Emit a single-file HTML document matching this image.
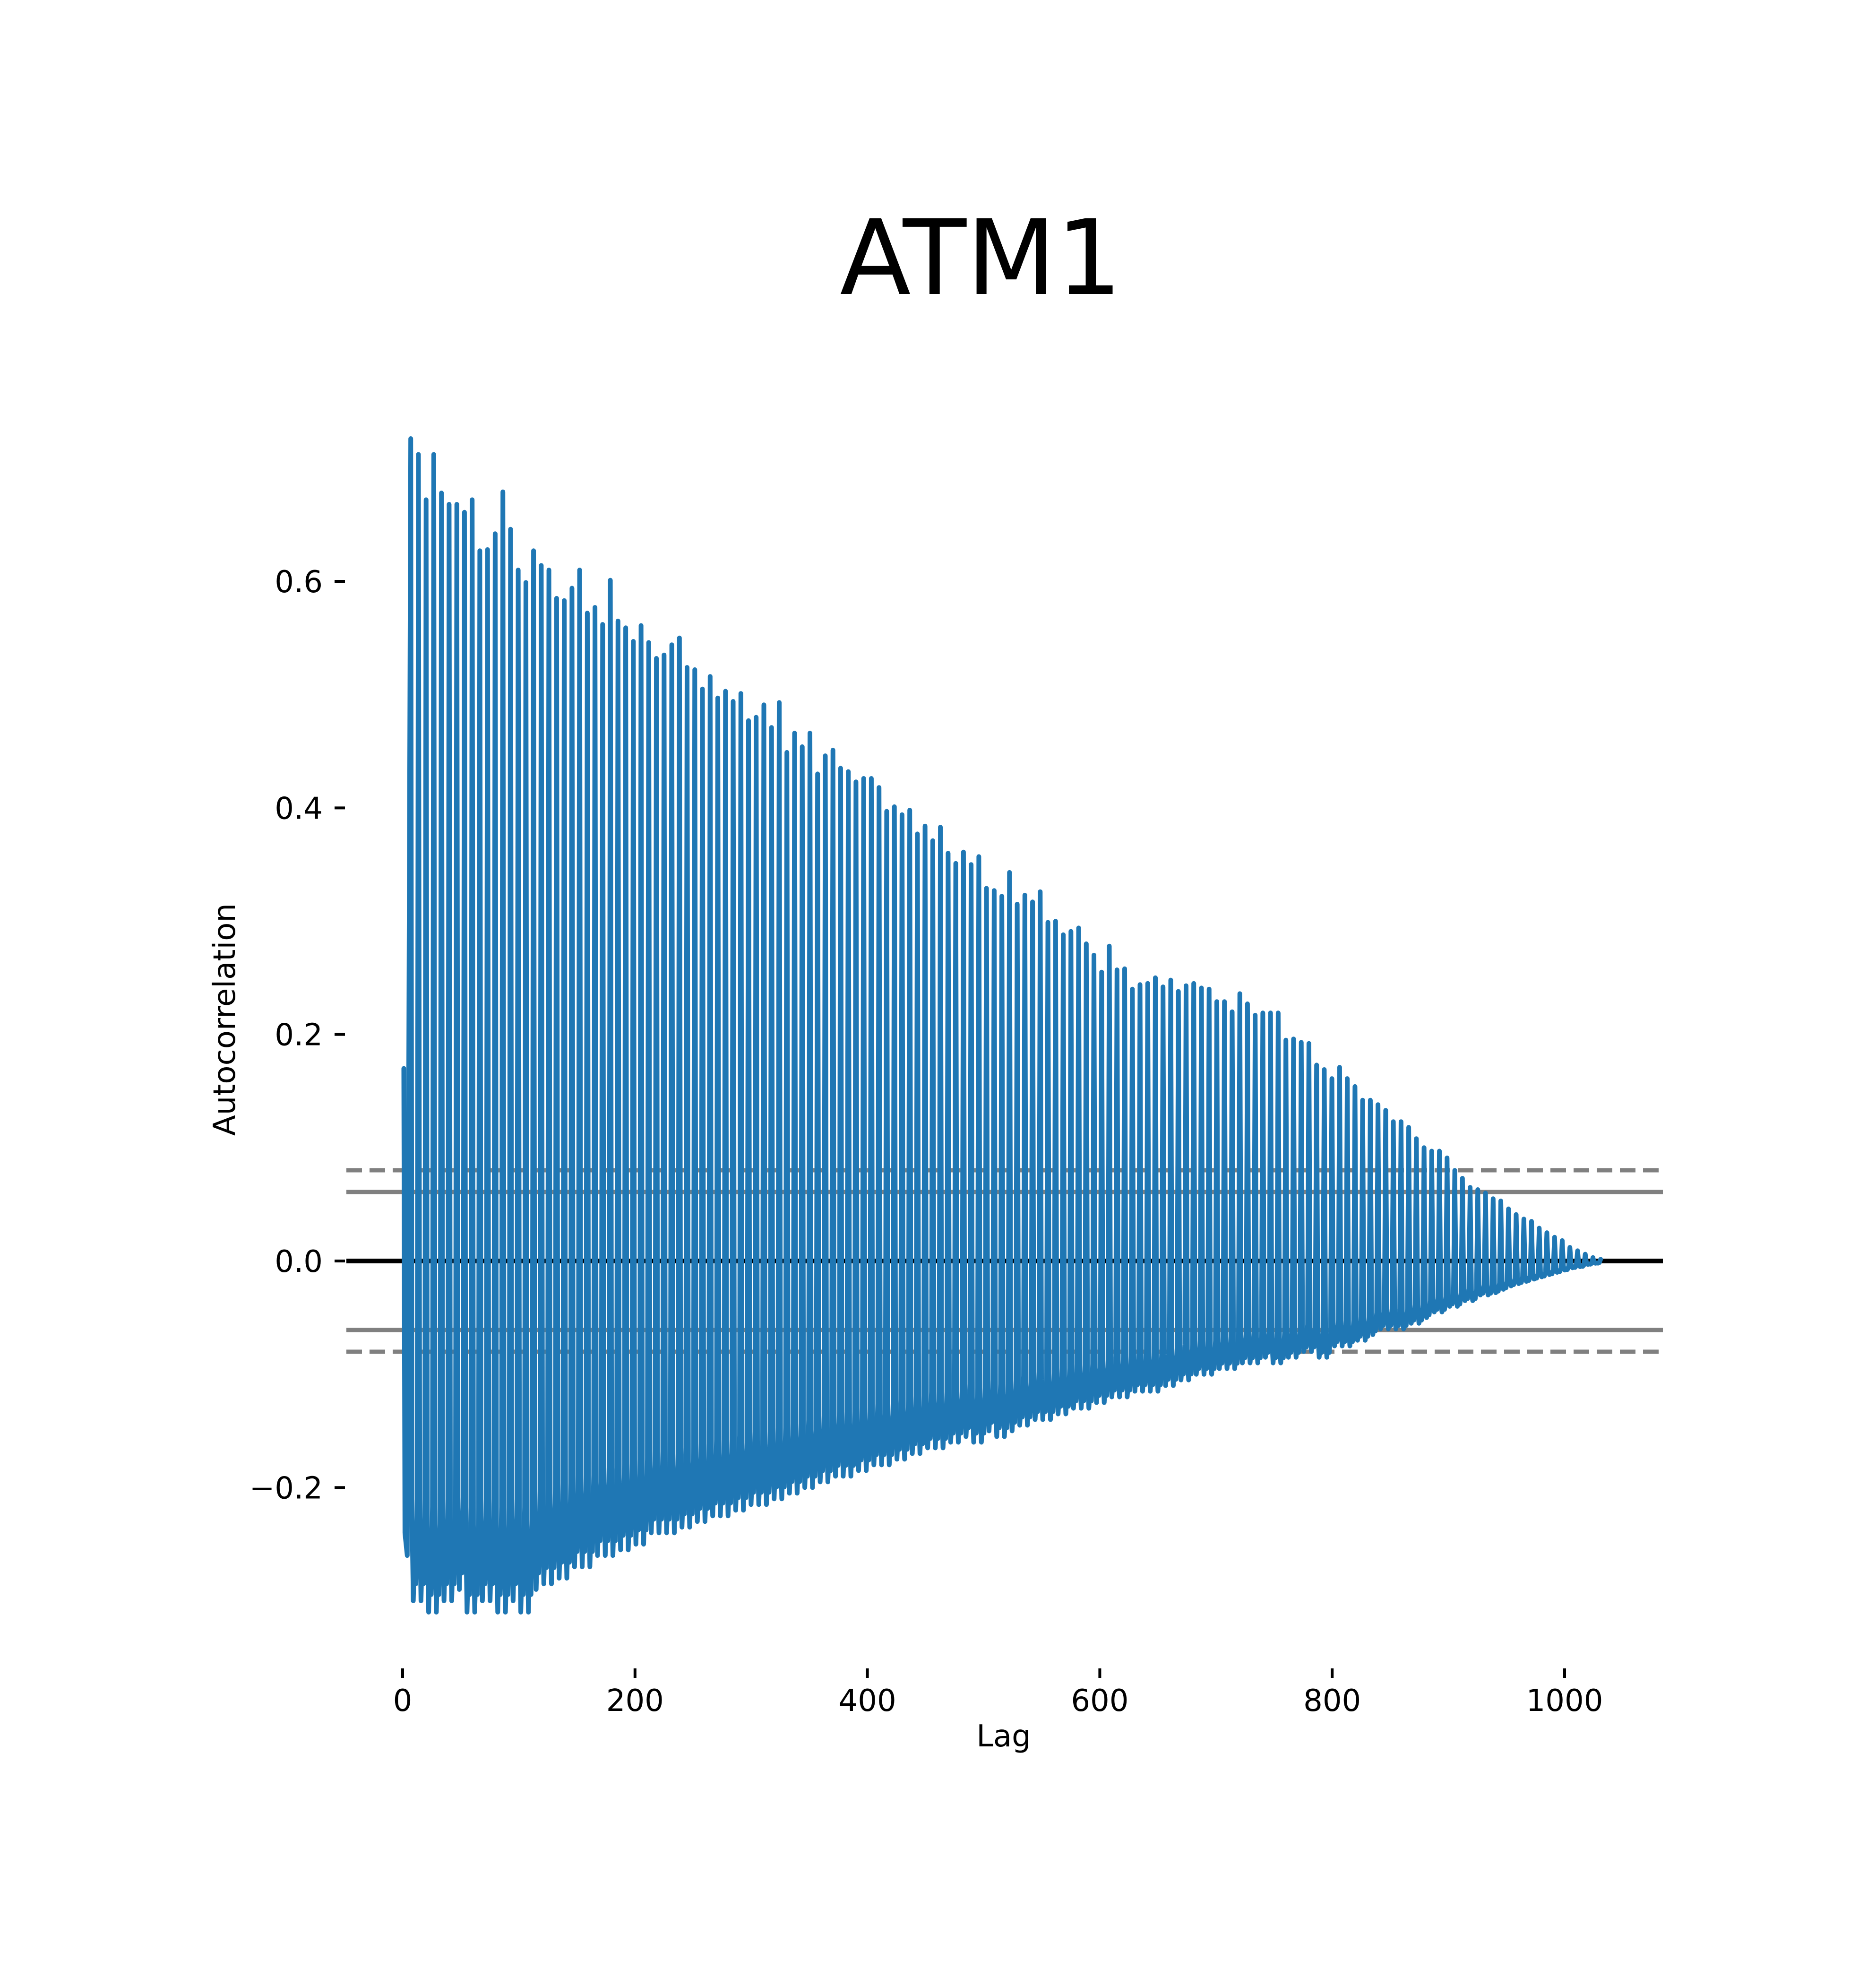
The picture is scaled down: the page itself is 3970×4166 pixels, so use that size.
<!DOCTYPE html>
<html><head><meta charset="utf-8"><title>ATM1 autocorrelation</title>
<style>html,body{margin:0;padding:0;background:#fff}svg{display:block}text{font-family:"DejaVu Sans","Liberation Sans",sans-serif;fill:#000}</style>
</head><body>
<svg id="chart" xmlns="http://www.w3.org/2000/svg" width="3970" height="4166" viewBox="0 0 3970 4166">
<rect width="3970" height="4166" fill="#fff"/>
<text x="2076" y="622" font-size="220" text-anchor="middle">ATM1</text>
<g id="bands"></g><g id="series"></g><g id="axes"></g>
<text x="2124" y="3695" font-size="64" text-anchor="middle">Lag</text>
<text x="0" y="0" font-size="64" text-anchor="middle" transform="translate(497,2157) rotate(-90)">Autocorrelation</text>
</svg>
<script>
const xTicks = [0, 200, 400, 600, 800, 1000];
const xTickLabels = ["0", "200", "400", "600", "800", "1000"];
const yTicks = [-0.2, 0.0, 0.2, 0.4, 0.6];
const yTickLabels = ["\u22120.2", "0.0", "0.2", "0.4", "0.6"];
const confLevels = [0.0609, 0.0801];
const leadLag = 1;
const leadValue = 0.17;
const firstPeakLag = 7;
const lastPeakLag = 1031;
const peakValues = [
.726,.712,.672,.712,.678,.668,.668,.661,.672,.627,.628,.642,.679,.646,.610,.599,.627,.614,.610,.585,.583,.594,.610,.572,.577,.562,.601,
.565,.559,.547,.561,.546,.532,.535,.544,.550,.524,.522,.505,.516,.497,.503,.494,.501,.477,.480,.491,.471,.493,.449,.466,.454,.466,.430,.446,
.451,.435,.432,.423,.426,.426,.418,.397,.401,.394,.398,.377,.384,.371,.383,.360,.351,.361,.350,.357,.329,.327,.322,.343,.315,.323,.317,.326,.299,.300,.288,.291,.294,.280,.270,.255,.278,.257,.258,.240,.244,
.245,.250,.242,.248,.238,.243,.245,.241,
.240,.229,.229,.220,.236,.227,.217,.219,.219,.219,.195,.196,.193,.192,.173,.169,.161,.171,.161,.154,.142,.142,.138,.133,.123,.123,.118,.108,.100,.097,.097,.091,.080,.073,
.065,.063,.060,.055,.053,.046,.041,.037,.035,.029,.025,.021,.018,.012,.009,.006,.003,.0015];
const troughValues = [
-.29,-.30,-.28,-.31,-.29,-.30,-.29,-.28,-.31,-.30,-.29,-.30,-.31,-.29,-.30,-.31,
-.29,-.28,-.285,-.27,-.28,-.27,-.265,-.27,-.26,-.255,-.26,-.25,-.255,-.245,-.25,-.24,
-.24,-.235,-.24,-.23,-.235,-.225,-.23,-.225,-.22,-.225,-.215,-.22,-.215,-.21,-.215,-.205,
-.21,-.2,-.205,-.195,-.2,-.19,-.195,-.19,-.185,-.19,-.18,-.185,-.18,-.175,-.18,-.17,
-.175,-.165,-.17,-.165,-.16,-.165,-.155,-.16,-.155,-.15,-.16,-.15,-.145,-.155,-.15,-.14,
-.145,-.14,-.135,-.14,-.13,-.135,-.13,-.125,-.13,-.12,-.125,-.12,-.115,-.12,-.11,-.115,
-.11,-.115,-.105,-.11,-.1,-.105,-.1,-.095,-.1,-.095,-.09,-.095,-.09,-.085,-.09,-.085,
-.085,-.09,-.08,-.085,-.08,-.075,-.08,-.085,-.075,-.07,-.075,-.065,-.07,-.065,-.06,-.06,
-.055,-.06,-.05,-.055,-.05,-.045,-.045,-.04,-.04,-.035,-.035,-.03,-.03,-.028,-.025,-.022,
-.02,-.018,-.016,-.014,-.012,-.01,-.008,-.006,-.005,-.003,-.002,-.001];
const betweenShape = [0.75, 1.0, 0.85, 0.95, 0.7];

const NS = "http://www.w3.org/2000/svg";
const X0 = 852, X1000 = 3311, Y0 = 2668, YPER = 2396.7;
const AX_L = 733, AX_R = 3519;
function xs(l){ return X0 + (X1000 - X0) * l / 1000; }
function ys(v){ return Y0 - v * YPER; }
function mk(tag, attrs, parent){ const e = document.createElementNS(NS, tag); for (const k in attrs) e.setAttribute(k, attrs[k]); parent.appendChild(e); return e; }

const bands = document.getElementById('bands');
confLevels.forEach((c, ci) => {
  [1, -1].forEach(s => {
    const ln = mk('line', {x1: AX_L, x2: AX_R, y1: ys(s*c), y2: ys(s*c), stroke: '#808080', 'stroke-width': 9, 'stroke-dasharray': ci === 1 ? '33 16' : 'none'}, bands);
    
    
  });
});
const zl = mk('line', {x1: AX_L, x2: AX_R, y1: ys(0), y2: ys(0), stroke: '#000', 'stroke-width': 10}, bands);



const n = Math.min(peakValues.length, troughValues.length);
const step = (lastPeakLag - firstPeakLag) / (n - 1);
const pts = [[xs(leadLag), ys(leadValue)], [xs(leadLag + 1), ys(-0.24)], [xs(leadLag + 3), ys(-0.26)]];
for (let i = 0; i < n; i++) {
  const L = firstPeakLag + step * i;
  pts.push([xs(L), ys(peakValues[i])]);
  if (i < n - 1) {
    const m = Math.max(Math.abs(troughValues[i]), Math.abs(troughValues[i+1]));
    for (let j = 0; j < betweenShape.length; j++) {
      const lj = L + step * (j + 1) / (betweenShape.length + 1);
      pts.push([xs(lj), ys(-m * betweenShape[j])]);
    }
  }
}
const series = document.getElementById('series');
const pl = mk('polyline', {points: pts.map(p => p[0].toFixed(1) + ',' + p[1].toFixed(1)).join(' '), fill: 'none', stroke: '#1f77b4', 'stroke-width': 10, 'stroke-linejoin': 'round', 'stroke-linecap': 'round'}, series);



const axes = document.getElementById('axes');
xTicks.forEach((t, i) => {
  const tk = mk('line', {x1: xs(t), x2: xs(t), y1: 3530, y2: 3550, stroke: '#000', 'stroke-width': 6}, axes);
  
  
  const tx = mk('text', {x: xs(t), y: 3620, 'font-size': 64, 'text-anchor': 'middle'}, axes);
  tx.textContent = xTickLabels[i];
  
  
});
yTicks.forEach((t, i) => {
  const tk = mk('line', {x1: 708, x2: 730, y1: ys(t), y2: ys(t), stroke: '#000', 'stroke-width': 6}, axes);
  
  
  const tx = mk('text', {x: 683, y: ys(t) + 23, 'font-size': 64, 'text-anchor': 'end'}, axes);
  tx.textContent = yTickLabels[i];
  
  
});
</script>
</body></html>
